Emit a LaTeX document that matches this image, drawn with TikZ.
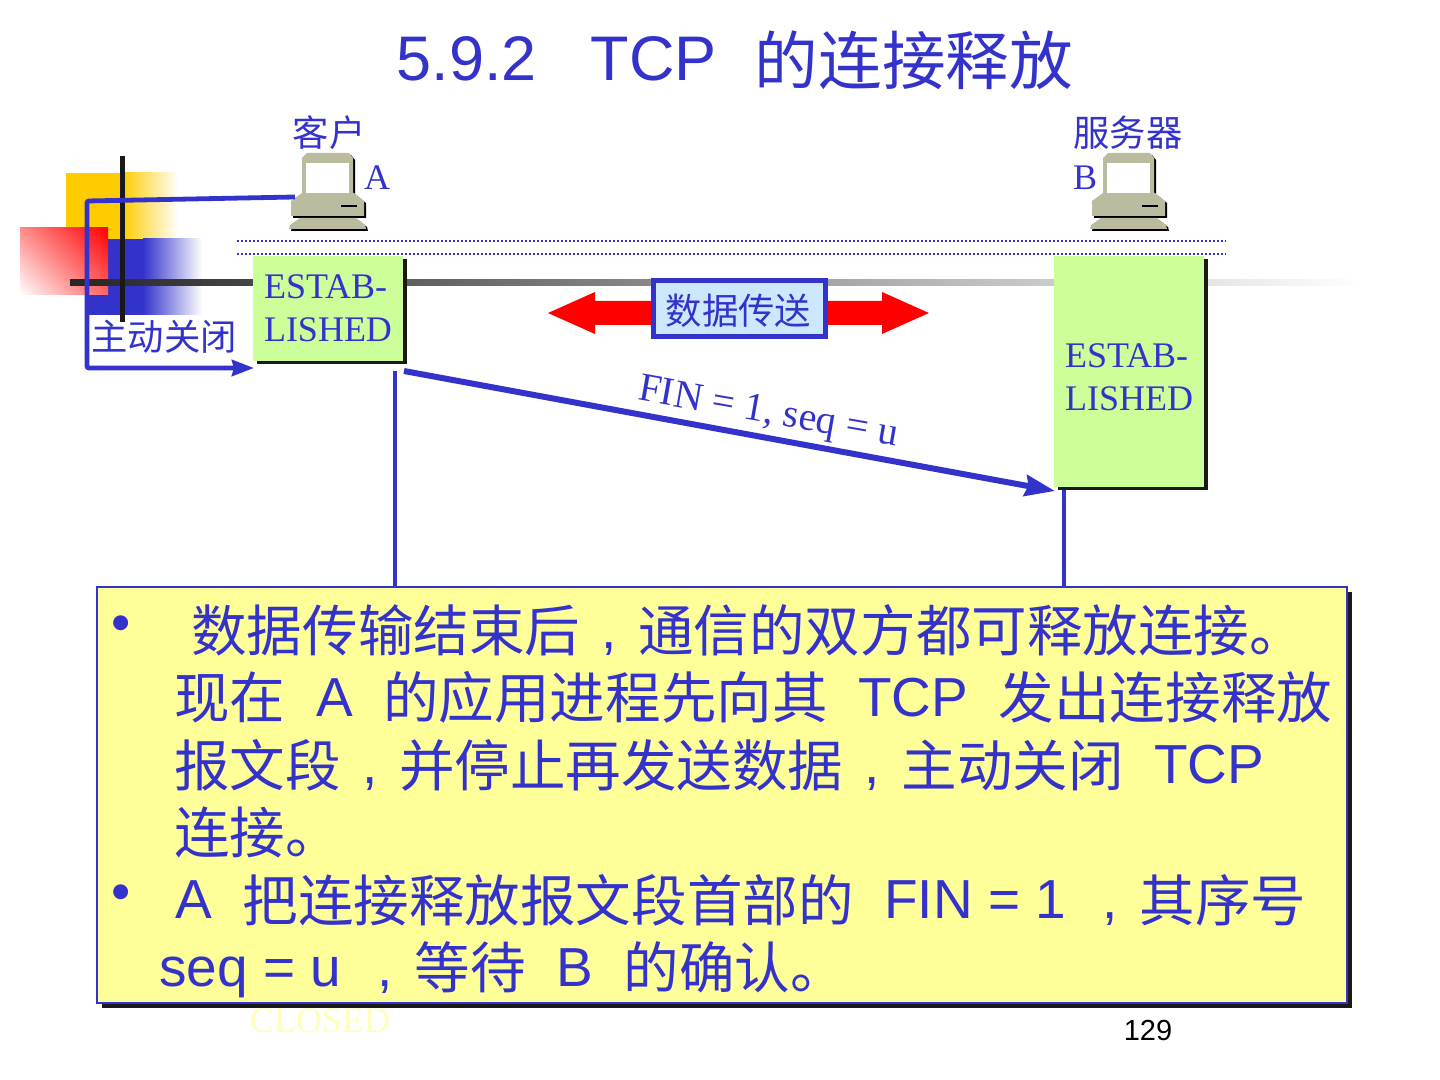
\documentclass[tikz,border=0pt]{standalone}
\usepackage{fontspec}
\setmainfont{Liberation Serif}
\setsansfont{Liberation Sans}
\newfontfamily\cjk[Scale=1.01]{Noto Sans CJK SC}
\usetikzlibrary{arrows.meta, shadows, shadings}

\definecolor{tcpblue}{HTML}{3333CC}
\definecolor{estabgreen}{HTML}{CCFF99}
\definecolor{notefill}{HTML}{FFFF99}
\definecolor{sendfill}{HTML}{CCE8FF}
\definecolor{compgrey}{HTML}{BBBBA0}
\definecolor{closedfaint}{HTML}{FFFFBB}
\definecolor{decoyellow}{HTML}{FFCC00}

\newcommand{\zh}[1]{\raisebox{-0.05em}{\cjk #1}}
\newcommand{\zhcomma}{\hspace{10.7pt},\hspace{10.7pt}}

\tikzset{
    pics/computer/.style={code={
        \foreach \off/\col in {2/black, 0/compgrey} {
            \fill[\col] (-25+\off,40+\off) -- (-25+\off,5+\off) -- (-20+\off,\off) -- (22+\off,\off) -- (26+\off,5+\off) -- (26+\off,40+\off) -- cycle;
            \fill[\col] (-36+\off,63+\off) -- (-36+\off,48+\off) -- (-25+\off,40+\off) -- (27+\off,40+\off) -- (37+\off,48+\off) -- (37+\off,63+\off) -- cycle;
            \fill[\col] (-38+\off,76+\off) -- (-37+\off,72+\off) -- (-27+\off,65+\off) -- (29+\off,65+\off) -- (38+\off,72+\off) -- (39+\off,76+\off) -- cycle;
        }
        \fill[white] (-21,10) rectangle (22,40);
        \draw[black, line width=1pt] (14,53) -- (30,53);
    }}
}

\begin{document}
\begin{tikzpicture}[
    x=0.5pt, y=-0.5pt,
    >={Stealth[length=11pt, width=8pt, inset=1pt]},
    every node/.style={text=tcpblue, inner sep=0pt},
    smalltext/.style={font=\fontsize{18}{21.5}\selectfont},
    notetext/.style={anchor=base west, font=\sffamily\fontsize{27.5}{30}\selectfont},
    estabbox/.style={fill=estabgreen, minimum width=75pt,
        drop shadow={shadow xshift=2pt, shadow yshift=-1.7pt, fill=black!90, opacity=1}},
    estabtext/.style={smalltext, align=left},
    link/.style={draw=tcpblue, line width=2pt}
]
\useasboundingbox (0,0) rectangle (1440,1080);

% Corner decoration
\fill[decoyellow] (66,173) rectangle (122,240);
\shade[left color=decoyellow, right color=white] (122,173) rectangle (178,240);
\fill[tcpblue] (87,239) rectangle (143,315);
\shade[left color=tcpblue, right color=white] (143,239) rectangle (202,315);
\shade[upper right=red, upper left=red!45, lower left=white, lower right=red!60] (20,228) rectangle (108,295);
\shade[left color=black!85, right color=white] (70,280) rectangle (1362,286);
\fill[black!90] (120,156) rectangle (125,322);

% Title
\node[font=\sffamily\fontsize{31.5}{36}\selectfont, anchor=base] (title) at (735,81)
    {5.9.2\hspace{27pt}TCP\hspace{19pt}\zh{的连接释放}};

% Hosts
\pic (compA) at (327,153) {computer};
\pic (compB) at (1128,153) {computer};
\node[smalltext] (clientlbl) at (329,133) {\zh{客户}};
\node[smalltext] (serverlbl) at (1128,133) {\zh{服务器}};
\node[smalltext] (nameA) at (377,178) {A};
\node[smalltext] (nameB) at (1085,178) {B};

% Dotted band
\coordinate (dotL1) at (237,241);
\coordinate (dotR1) at (1226,241);
\coordinate (dotL2) at (237,254);
\coordinate (dotR2) at (1226,254);
\draw[tcpblue, line width=1pt, dash pattern=on 1pt off 1pt] (dotL1) -- (dotR1) (dotL2) -- (dotR2);

% State boxes
\node[estabbox, estabtext, minimum height=52.5pt] (estabA) at (328,308.5) {ESTAB-\\LISHED};
\node[estabbox, minimum height=115.5pt] (estabB) at (1129,371.5) {};
\node[estabtext] (estabBlbl) at (1129,377) {ESTAB-\\LISHED};

% Data transfer
\fill[red] (548,313) -- (595,292) -- (595,301) -- (882,301) -- (882,292) -- (929,313)
    -- (882,334) -- (882,325) -- (595,325) -- (595,334) -- cycle;
\node[draw=tcpblue, line width=2.5pt, fill=sendfill, minimum width=86pt, minimum height=28pt] (sendbox) at (739.5,308.5) {};
\node[smalltext] (sendlbl) at (738.5,311) {\zh{数据传送}};

% Active close
\node[smalltext] (closelbl) at (164,337) {\zh{主动关闭}};
\coordinate (hostA) at (295,197);
\coordinate (bendtop) at (87,201);
\coordinate (bendlow) at (87,368);
\coordinate (closeend) at (254,368);
\draw[link, line width=2.4pt, rounded corners=1pt, ->] (hostA) -- (bendtop) -- (bendlow) -- (closeend);

% Time lines
\coordinate (timeA) at (395,371);
\coordinate (timeAend) at (395,600);
\coordinate (timeB) at (1064,490);
\coordinate (timeBend) at (1064,600);
\draw[link] (timeA) -- (timeAend);
\draw[link] (timeB) -- (timeBend);

% FIN segment
\coordinate (finstart) at (404,371);
\coordinate (finend) at (1055,491);
\draw[tcpblue, line width=3pt, ->, >={Stealth[length=15pt, width=10.5pt, inset=1.5pt]}] (finstart) -- (finend);
\node[font=\fontsize{20}{22}\selectfont, rotate=-10] (finlbl) at (768,414) {FIN = 1, seq = u};

% Faded state label
\node[text=closedfaint, smalltext] (closedlbl) at (320,1021) {CLOSED};

% Note
\node[draw=tcpblue, line width=1pt, fill=notefill, minimum width=625pt, minimum height=208pt,
      drop shadow={shadow xshift=2.5pt, shadow yshift=-2.5pt, fill=black!90, opacity=1}] (note) at (722,795) {};
\node[notetext] (bullet1) at (111,641) {•};
\node[notetext] (line1) at (191,648.5) {\zh{数据传输结束后}\zhcomma\zh{通信的双方都可释放连接。}};
\node[notetext] (line2) at (174,716) {\zh{现在}~~A~~\zh{的应用进程先向其}~~TCP~~\zh{发出连接释放}};
\node[notetext] (line3) at (174,783.5) {\zh{报文段}\zhcomma\zh{并停止再发送数据}\zhcomma\zh{主动关闭}~~TCP};
\node[notetext] (line4) at (174,851) {\zh{连接。}};
\node[notetext] (bullet2) at (111,910) {•};
\node[notetext] (line5) at (175,918.5) {A~~\zh{把连接释放报文段首部的}~~FIN = 1~\zhcomma\zh{其序号}};
\node[notetext] (line6) at (159,986) {seq = u~\zhcomma\zh{等待}~~B~~\zh{的确认。}};

% Page number
\node[text=black, font=\sffamily\fontsize{14.5}{16}\selectfont] (pagenum) at (1148,1031) {129};

\end{tikzpicture}
\end{document}
